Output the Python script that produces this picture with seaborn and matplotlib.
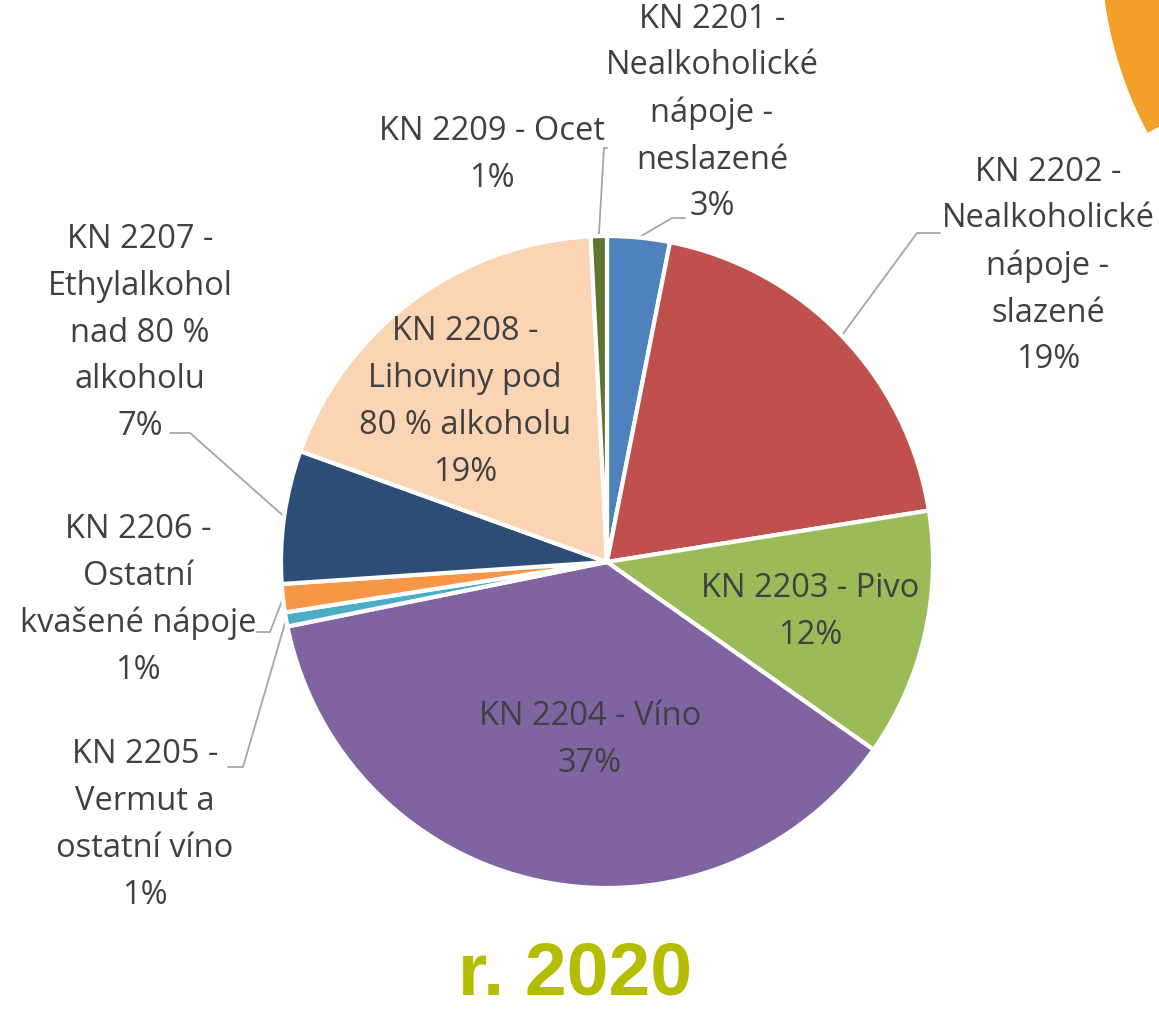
import numpy as np
import matplotlib.pyplot as plt
import seaborn as sns
from matplotlib.patches import Wedge

# --- nastavení ---
sns.set_theme(style="white")
plt.rcParams['font.family'] = ['Open Sans', 'DejaVu Sans']

# --- data (podíly v %) ---
kody = ['KN 2201', 'KN 2202', 'KN 2203', 'KN 2204', 'KN 2205',
        'KN 2206', 'KN 2207', 'KN 2208', 'KN 2209']
popisky = [
    'KN 2201 -\nNealkoholické\nnápoje -\nneslazené',
    'KN 2202 -\nNealkoholické\nnápoje -\nslazené',
    'KN 2203 - Pivo',
    'KN 2204 - Víno',
    'KN 2205 -\nVermut a\nostatní víno',
    'KN 2206 -\nOstatní\nkvašené nápoje',
    'KN 2207 -\nEthylalkohol\nnad 80 %\nalkoholu',
    'KN 2208 -\nLihoviny pod\n80 % alkoholu',
    'KN 2209 - Ocet',
]
podily = [3.1, 19.4, 12.3, 37.1, 0.7, 1.4, 6.6, 18.7, 0.8]
barvy = ['#4F81BD', '#C0504D', '#9BBB59', '#8064A2', '#4BACC6',
         '#F79646', '#2C4D75', '#FBD4B4', '#5F7530']
rok = 'r. 2020'

W, H = 1159, 1011
stred = (607, H - 562)
polomer = 326

# pozice popisků (střed textu) v pixelech obrázku
pozice = {
    'KN 2201': (712, 113), 'KN 2202': (1048, 266), 'KN 2203': (810, 612),
    'KN 2204': (590, 740), 'KN 2205': (145, 825), 'KN 2206': (138, 600),
    'KN 2207': (140, 333), 'KN 2208': (465, 402), 'KN 2209': (492, 155),
}
# odkazové čáry: (zlom, konec)
vodici = {
    'KN 2201': ((672, 218), (685, 218)),
    'KN 2202': ((917, 233), (940, 233)),
    'KN 2205': ((243, 767), (228, 767)),
    'KN 2206': ((270, 632), (257, 632)),
    'KN 2207': ((190, 433), (170, 433)),
    'KN 2209': ((604, 148), (607, 148)),
}

fig = plt.figure(figsize=(W / 100, H / 100), dpi=100)
ax = fig.add_axes([0, 0, 1, 1])

wedges, _ = ax.pie(podily, colors=barvy, startangle=90, counterclock=False,
                   center=stred, radius=polomer,
                   wedgeprops=dict(edgecolor='white', linewidth=3))

# dekorace vpravo nahoře (kus jiného grafu)
ax.add_patch(Wedge((1499, H + 54), 398, 150, 208, color='#F2A02A', lw=0))

for w, kod, txt, v in zip(wedges, kody, popisky, podily):
    x, y = pozice[kod]
    ax.text(x, H - y, f'{txt}\n{round(v)}%', ha='center', va='center',
            fontsize=23.5, color='#404040', linespacing=1.55)
    if kod in vodici:
        uhel = np.deg2rad((w.theta1 + w.theta2) / 2)
        x0 = stred[0] + polomer * np.cos(uhel)
        y0 = stred[1] + polomer * np.sin(uhel)
        (kx, ky), (ex, ey) = vodici[kod]
        ax.plot([x0, kx, ex], [y0, H - ky, H - ey], color='#A6A6A6', lw=1.3,
                zorder=0.5)

ax.text(575, H - 975, rok, ha='center', va='center', fontsize=54,
        fontweight='bold', family='Liberation Sans', color='#B5BD00')

ax.set_xlim(0, W)
ax.set_ylim(0, H)
ax.set_aspect('equal')
ax.axis('off')

plt.savefig('out.png', dpi=100)
